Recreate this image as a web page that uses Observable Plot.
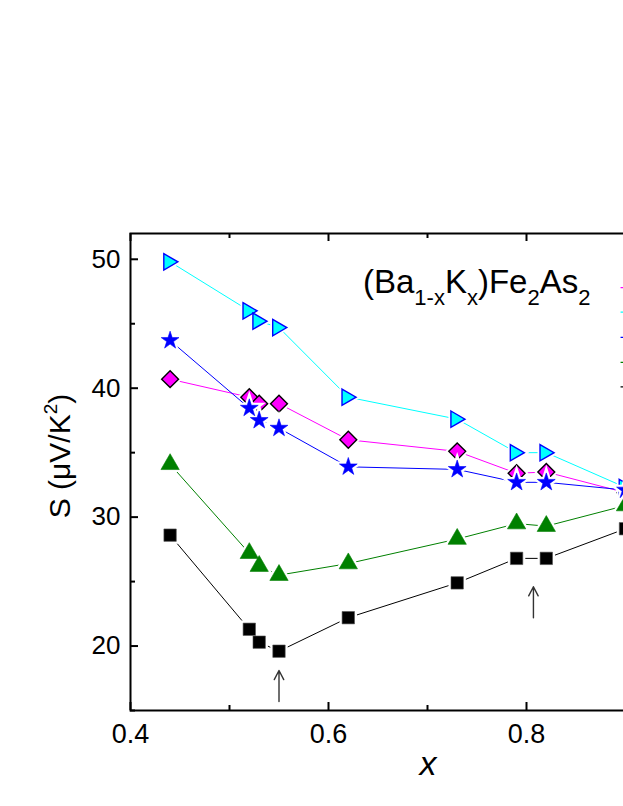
<!DOCTYPE html>
<html>
<head>
<meta charset="utf-8">
<script src="https://cdn.jsdelivr.net/npm/d3@7"></script>
<script src="https://cdn.jsdelivr.net/npm/@observablehq/plot@0.6"></script>
<style>
  html, body { margin: 0; padding: 0; background: #fff; overflow: hidden; }
  #chart { position: relative; width: 623px; height: 806px; overflow: hidden; }
</style>
</head>
<body>
<div id="chart"></div>
<script>
// ---- data ----
const xValues = [0.44, 0.52, 0.53, 0.55, 0.62, 0.73, 0.79, 0.82, 0.9];
const sMagenta = [40.7, 39.3, 38.8, 38.8, 36.0, 35.1, 33.4, 33.5, 31.9];
const sCyan    = [49.8, 46.0, 45.2, 44.7, 39.3, 37.6, 35.0, 35.0, 32.3];
const sBlue    = [43.7, 38.45, 37.5, 36.9, 33.9, 33.7, 32.7, 32.7, 32.1];
const sGreen   = [34.1, 27.2, 26.2, 25.5, 26.4, 28.3, 29.5, 29.3, 30.9];
const sBlack   = [28.6, 21.3, 20.3, 19.6, 22.2, 24.9, 26.8, 26.8, 29.1];

const seriesNames = ["magenta", "cyan", "blue", "green", "black"];
const seriesValues = [sMagenta, sCyan, sBlue, sGreen, sBlack];

// legend rows (partly cut off at the right edge), in data units
const legendY = [47.8, 45.9, 43.95, 42.0, 40.1];
const legendX1 = 0.895, legendX2 = 0.96;

// arrows marking anomalies
const arrowX = [0.55, 0.807];
const arrowFrom = [15.7, 22.2];
const arrowTo = [18.1, 24.6];

// ticks
const xMajor = [0.4, 0.6, 0.8, 1.0];
const xLabels = [0.4, 0.6, 0.8];
const xMinor = [0.5, 0.7, 0.9];
const yMajor = [20, 30, 40, 50];
const yMinor = [15, 25, 35, 45];

// ---- styles ----
const rightTriangle = {
  draw(ctx, size) {
    const r = Math.sqrt(size / Math.PI);
    ctx.moveTo(-0.85 * r, -1.1 * r);
    ctx.lineTo(1.05 * r, 0);
    ctx.lineTo(-0.85 * r, 1.1 * r);
    ctx.closePath();
  }
};
const styles = {
  magenta: {line: "#ff00ff", fill: "#ff00ff", stroke: "#000000", sw: 1.4, symbol: "diamond2", r: 7.6},
  cyan:    {line: "#00ffff", fill: "#00ffff", stroke: "#0000ff", sw: 1.4, symbol: rightTriangle, r: 7.4},
  blue:    {line: "#0000ff", fill: "#0000ff", stroke: "#0000ff", sw: 0.6, symbol: "star", r: 5.6},
  green:   {line: "#008000", fill: "#008000", stroke: "#008000", sw: 0.6, symbol: "triangle", r: 6.8},
  black:   {line: "#000000", fill: "#000000", stroke: "#555555", sw: 0.6, symbol: "square", r: 7.0}
};

const W = 760, H = 806;
const mL = 130, mR = 36, mT = 233, mB = 96;
const innerW = W - mL - mR, innerH = H - mT - mB;

const marks = [];
seriesNames.forEach((name, k) => {
  const st = styles[name];
  const rows = xValues.map((x, i) => ({x, s: seriesValues[k][i]}));
  marks.push(Plot.line(rows, {x: "x", y: "s", stroke: st.line, strokeWidth: 1}));
  marks.push(Plot.dot(rows, {x: "x", y: "s", symbol: st.symbol, r: st.r, fill: "white", stroke: "white", strokeWidth: 5}));
  marks.push(Plot.dot(rows, {x: "x", y: "s", symbol: st.symbol, r: st.r, fill: st.fill, stroke: st.stroke, strokeWidth: st.sw}));
});

const legendRows = legendY.map((y, i) => ({y, c: styles[seriesNames[i]].line}));
const arrowRows = arrowX.map((x, i) => ({x, y1: arrowFrom[i], y2: arrowTo[i]}));

const chart = Plot.plot({
  width: W, height: H,
  marginLeft: mL, marginRight: mR, marginTop: mT, marginBottom: mB,
  style: "max-width:none; background:white; font-family: Arial, 'Liberation Sans', sans-serif; overflow:visible;",
  x: {domain: [0.4, 1.0]},
  y: {domain: [15, 52]},
  marks: [
    Plot.frame({stroke: "black", strokeWidth: 2}),
    // inward ticks
    Plot.tickY(yMajor, {y: d => d, stroke: "black", strokeWidth: 2, insetRight: innerW - 8}),
    Plot.tickY(yMinor, {y: d => d, stroke: "black", strokeWidth: 2, insetRight: innerW - 5}),
    Plot.tickX(xMajor, {x: d => d, stroke: "black", strokeWidth: 2, insetTop: innerH - 8}),
    Plot.tickX(xMinor, {x: d => d, stroke: "black", strokeWidth: 2, insetTop: innerH - 5}),
    Plot.tickX(xMajor, {x: d => d, stroke: "black", strokeWidth: 2, insetBottom: innerH - 8}),
    Plot.tickX(xMinor, {x: d => d, stroke: "black", strokeWidth: 2, insetBottom: innerH - 5}),
    Plot.axisY({ticks: yMajor, tickSize: 0, tickPadding: 10, fontSize: 26, label: null, anchor: "left"}),
    Plot.axisX({ticks: xLabels, tickSize: 0, tickPadding: 13, fontSize: 27, label: null, anchor: "bottom", tickFormat: d3.format(".1f")}),
    Plot.link(legendRows, {x1: () => legendX1, x2: () => legendX2, y1: "y", y2: "y", stroke: "c", strokeWidth: 1.2}),
    Plot.arrow(arrowRows, {x1: "x", x2: "x", y1: "y1", y2: "y2", stroke: "#333", strokeWidth: 1.4, headLength: 11, headAngle: 55}),
    ...marks
  ]
});

document.getElementById("chart").appendChild(chart);

// text annotations with sub/superscripts
const svg = d3.select(chart);
const font = "Arial, 'Liberation Sans', sans-serif";
const title = svg.append("text").attr("x", 363).attr("y", 293)
  .attr("text-anchor", "start")
  .attr("font-family", font).attr("font-size", 33).attr("fill", "black");
const parts = [["(Ba", 0], ["1-x", 1], ["K", 0], ["x", 1], [")Fe", 0], ["2", 1], ["As", 0], ["2", 1]];
let prevSub = 0;
parts.forEach(([t, sub]) => {
  const ts = title.append("tspan").text(t);
  if (sub !== prevSub) ts.attr("dy", sub ? 12 : -12);
  if (sub) ts.attr("font-size", 22);
  prevSub = sub;
});

const ylab = svg.append("text")
  .attr("transform", "translate(70,456) rotate(-90)")
  .attr("text-anchor", "middle")
  .attr("font-family", font).attr("font-size", 30).attr("fill", "black");
ylab.append("tspan").text("S (\u03BCV/K");
ylab.append("tspan").text("2").attr("font-size", 19).attr("dy", -13);
ylab.append("tspan").text(")").attr("dy", 13);

svg.append("text").attr("x", 428).attr("y", 775)
  .attr("text-anchor", "middle")
  .attr("font-family", font).attr("font-size", 34).attr("font-style", "italic")
  .attr("fill", "black").text("x");
</script>
</body>
</html>
